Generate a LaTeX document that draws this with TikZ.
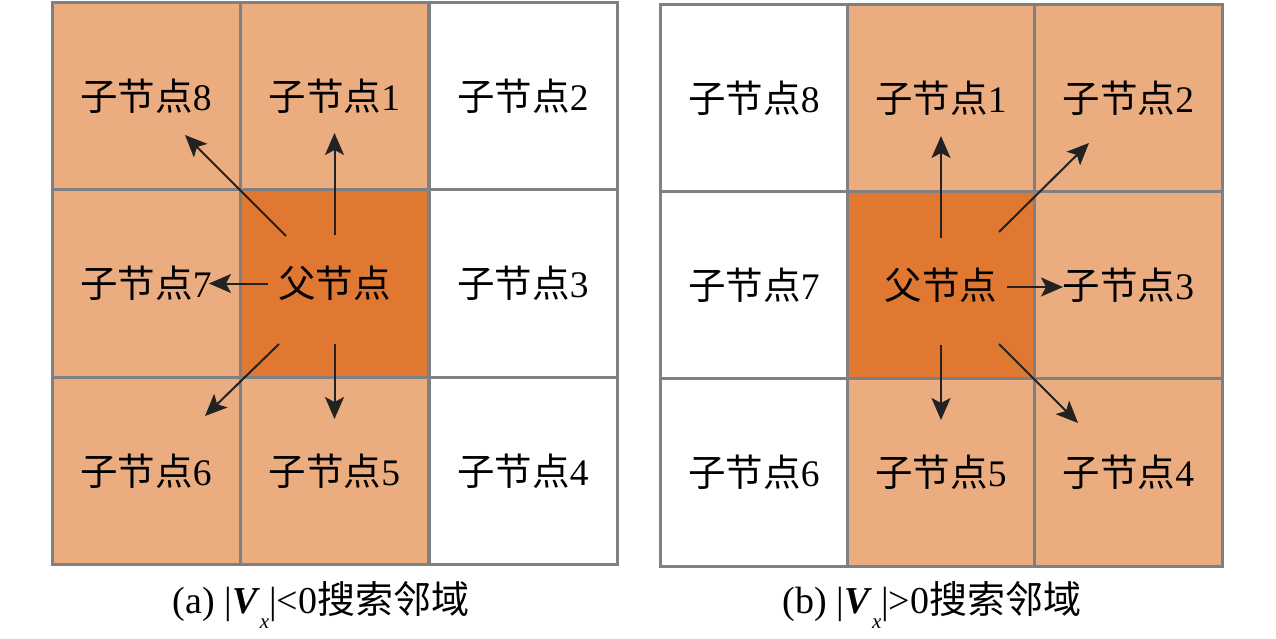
\documentclass[tikz,border=0pt]{standalone}
\usepackage{fontspec}
\setmainfont{Liberation Serif}
\newfontfamily\cjk{Noto Sans CJK SC}
\usetikzlibrary{arrows.meta}
\definecolor{lightor}{HTML}{EBAC80}
\definecolor{darkor}{HTML}{E07832}
\definecolor{gridgray}{HTML}{808080}
\definecolor{arrowc}{HTML}{222222}
\begin{document}
\begin{tikzpicture}[x=1pt,y=-1pt,
  cell/.style={draw=gridgray,line width=3pt,minimum width=188pt,minimum height=187.5pt,inner sep=0pt,outer sep=0pt,
    font=\fontsize{37.5}{40}\selectfont},
  lo/.style={cell,fill=lightor},
  dk/.style={cell,fill=darkor},
  wh/.style={cell,fill=white},
  arr/.style={draw=arrowc,line width=2pt,-{Stealth[length=22pt 0 0,width=19pt 0 0,inset=5pt 0]}},
  captext/.style={font=\fontsize{38}{40}\selectfont,inner sep=0pt}
]
\useasboundingbox (0,0) rectangle (1276,639);
% left grid
\node[lo] (a8) at (146,96) {{\cjk 子节点}8};
\node[lo] (a1) at (334.5,96) {{\cjk 子节点}1};
\node[wh] (a2) at (523,96) {{\cjk 子节点}2};
\node[lo] (a7) at (146,283.5) {{\cjk 子节点}7};
\node[dk] (a0) at (334.5,283.5) {{\cjk 父节点}};
\node[wh] (a3) at (523,283.5) {{\cjk 子节点}3};
\node[lo] (a6) at (146,471) {{\cjk 子节点}6};
\node[lo] (a5) at (334.5,471) {{\cjk 子节点}5};
\node[wh] (a4) at (523,471) {{\cjk 子节点}4};
% right grid
\node[wh] (b8) at (754,98.5) {{\cjk 子节点}8};
\node[lo] (b1) at (941,98.5) {{\cjk 子节点}1};
\node[lo] (b2) at (1128.5,98.5) {{\cjk 子节点}2};
\node[wh] (b7) at (754,285.5) {{\cjk 子节点}7};
\node[dk] (b0) at (941,285.5) {{\cjk 父节点}};
\node[lo] (b3) at (1128.5,285.5) {{\cjk 子节点}3};
\node[wh] (b6) at (754,472.5) {{\cjk 子节点}6};
\node[lo] (b5) at (941,472.5) {{\cjk 子节点}5};
\node[lo] (b4) at (1128.5,472.5) {{\cjk 子节点}4};
% arrow end points
\coordinate (as1) at (334.5,235); \coordinate (ae1) at (334.5,133);
\coordinate (as8) at (286,236);   \coordinate (ae8) at (185,135);
\coordinate (as7) at (268,283.5); \coordinate (ae7) at (209,283.5);
\coordinate (as6) at (279,344);   \coordinate (ae6) at (205,416);
\coordinate (as5) at (334.5,344); \coordinate (ae5) at (334.5,419);
\coordinate (bs1) at (941,238);   \coordinate (be1) at (941,136);
\coordinate (bs2) at (999,232);   \coordinate (be2) at (1089,143);
\coordinate (bs3) at (1007,287);  \coordinate (be3) at (1063,287);
\coordinate (bs5) at (941,345);   \coordinate (be5) at (941,420);
\coordinate (bs4) at (999,344);   \coordinate (be4) at (1078,423);
\foreach \s/\e in {as1/ae1,as8/ae8,as7/ae7,as6/ae6,as5/ae5,bs1/be1,bs2/be2,bs3/be3,bs5/be5,bs4/be4}
  \draw[arr] (\s) -- (\e);
% captions
\node[captext,anchor=base] (capa) at (321,613) {(a) |\textbf{\textit{V}}\raisebox{-0.4em}{\fontsize{21}{21}\selectfont\itshape x}|<0{\cjk 搜索邻域}};
\node[captext,anchor=base] (capb) at (932,613) {(b) |\textbf{\textit{V}}\raisebox{-0.4em}{\fontsize{21}{21}\selectfont\itshape x}|>0{\cjk 搜索邻域}};
\end{tikzpicture}
\end{document}
